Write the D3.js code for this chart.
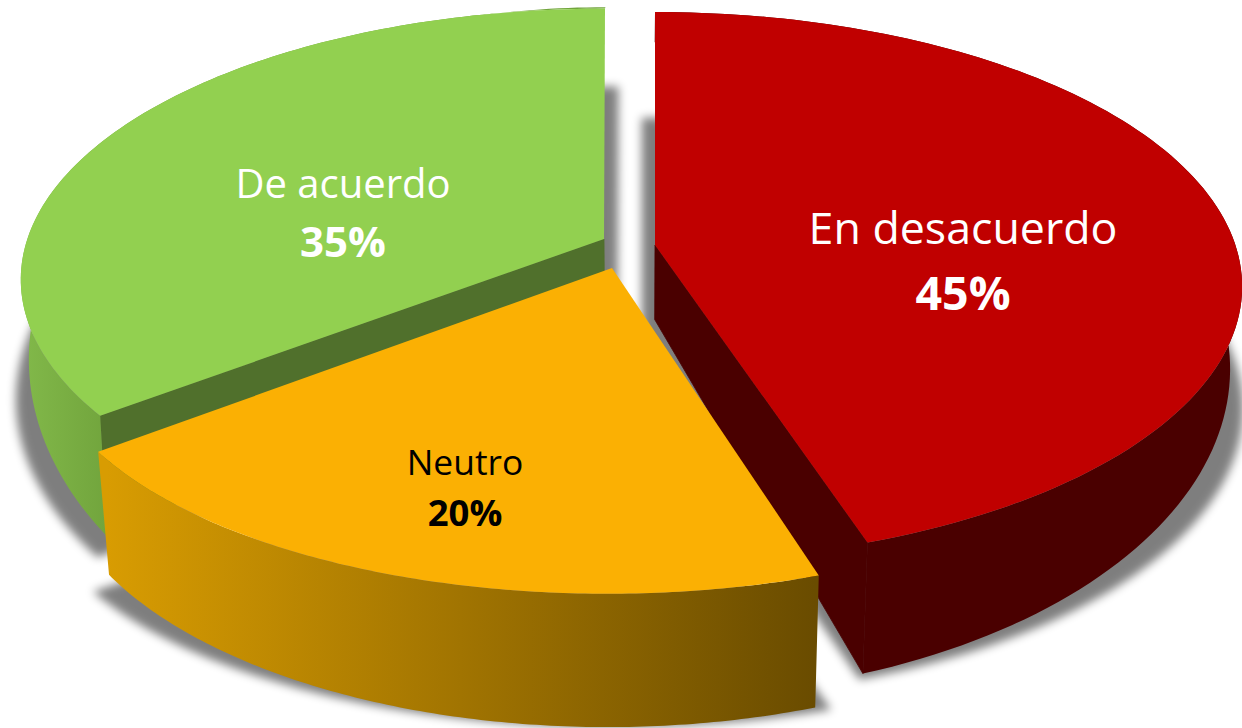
<!DOCTYPE html>
<html><head><meta charset="utf-8">
<script src="https://cdn.jsdelivr.net/npm/d3@7"></script>
<style>html,body{margin:0;background:#fff}svg{display:block}text{font-family:"Open Sans","Noto Sans",sans-serif;text-anchor:middle}</style>
</head><body><svg id="c" width="1242" height="728"></svg>
<script>
const categories = ["En desacuerdo","Neutro","De acuerdo"];
const values = [45,20,35];
const tickLabels = ["45%","20%","35%"];
const topColors = ["#C00000","#FBB003","#92D050"];
const cutColors = ["#4A0000",null,"#50702C"];
const wallRamps = [["#4A0000","#4A0000"],["#D89C02","#6A4C00"],["#82B94A","#72A53D"]];
// layout: apex of each slice, centre and radii of its rim on the page, perspective, wall depth
const apexes = [[655,245],[612,268],[604,239]];
const centres = [[655,241],[607,290],[605,247]];
const radii = [[579,267],[555,243],[580,267]];
const persp = [0.166,0.2,0.12];
const depth = [[0.19,28],[0.073,90],[0.30,-4]];
const labelPos = [[963,244,310,44.7,46.5],[465,475,526,35.4,36.5],[343,198,257,40,42]];
const textColors = ["#fff","#000","#fff"];

const svg = d3.select("#c");
const defs = svg.append("defs");
defs.append("filter").attr("id","blur").attr("x","-10%").attr("y","-10%").attr("width","120%").attr("height","120%")
  .append("feGaussianBlur").attr("stdDeviation",5);
wallRamps.forEach((r,i)=>{
  const g = defs.append("linearGradient").attr("id","wall"+i).attr("gradientUnits","userSpaceOnUse");
  const xr = [[655,1240],[107,814],[20,105]][i];
  g.attr("x1",xr[0]).attr("x2",xr[1]).attr("y1",0).attr("y2",0);
  g.append("stop").attr("offset",0).attr("stop-color",r[0]);
  g.append("stop").attr("offset",1).attr("stop-color",r[1]);
});

const pie = d3.pie().sort(null).startAngle(0).endAngle(2*Math.PI);
const arcs = pie(values);
const line = d3.line();
const project = (i,a)=>{
  const u=Math.sin(a), v=-Math.cos(a), d=1-persp[i]*v;
  return [centres[i][0]+radii[i][0]*u/d, centres[i][1]+radii[i][1]*v/d];
};
const VX=640;
const lower = i=>p=>[p[0]+(VX-p[0])*(i===2?0.013:0.02), p[1]*(1+depth[i][0])+depth[i][1]];
const samples = (s,e)=>d3.range(0,121).map(t=>s+(e-s)*t/120);

// shadows
const gShadow = svg.append("g").attr("filter","url(#blur)").attr("fill","#000").attr("opacity",0.5);
arcs.forEach((d,i)=>{
  const rim = samples(d.startAngle,d.endAngle).map(a=>lower(i)(project(i,a)));
  const outline = [lower(i)(apexes[i]),...rim];
  const xs = d3.extent(outline,p=>p[0]), mid=(xs[0]+xs[1])/2;
  const mapped = outline.map(p=>[mid+(p[0]-mid)*1.045, p[1]*0.89+80]);
  gShadow.append("path").attr("d",line(mapped)+"Z");
});

// solids, painted back to front
[2,0,1].forEach(i=>{
  const d = arcs[i];
  const g = svg.append("g");
  const low = lower(i);
  const rim = samples(d.startAngle,d.endAngle).map(a=>project(i,a));
  if(cutColors[i]){
    const edge = i===0 ? rim[rim.length-1] : rim[0];
    const q = [apexes[i],edge,low(edge),low(apexes[i])];
    g.append("path").attr("fill",cutColors[i]).attr("stroke",cutColors[i]).attr("stroke-width",0.8).attr("d",line(q)+"Z");
  }
  g.append("path").attr("fill",`url(#wall${i})`)
    .attr("d",line([...rim,...rim.slice().reverse().map(low)])+"Z");
  g.append("path").attr("fill",topColors[i]).attr("d",line([apexes[i],...rim])+"Z");
});

// labels
categories.forEach((c,i)=>{
  const L = labelPos[i];
  svg.append("text").attr("x",L[0]).attr("y",L[1]).attr("font-size",L[3]).attr("fill",textColors[i]).text(c);
  svg.append("text").attr("x",L[0]).attr("y",L[2]).attr("font-size",L[4]).attr("font-weight",700).attr("fill",textColors[i]).text(tickLabels[i]);
});
</script></body></html>
